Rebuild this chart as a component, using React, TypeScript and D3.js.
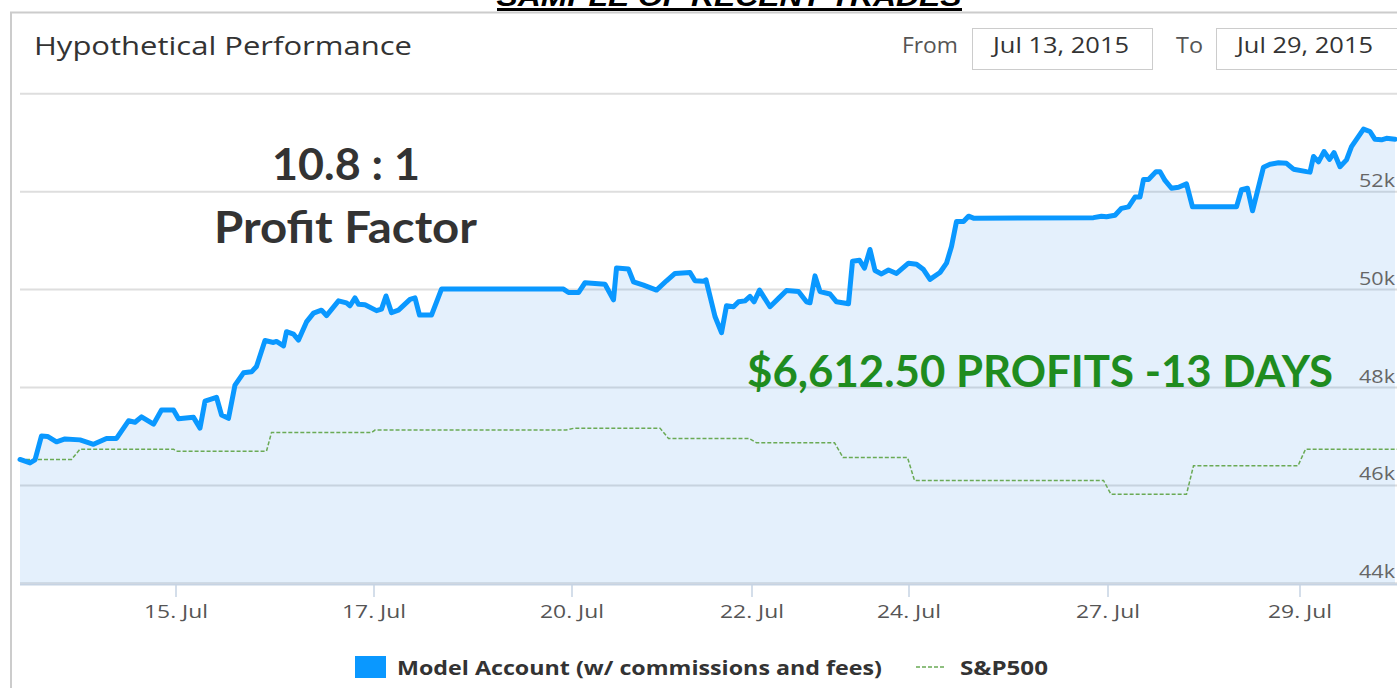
import React from "react";
import * as d3 from "d3";

// Ordinal position (trading-time index) and account value for the model account
const modelX = [0, 2, 3, 4.3, 5.5, 7.3, 9, 12, 14.7, 17.3, 19.3, 21.7, 23, 24.3, 26.7, 28.3, 30.7, 31.7, 34.7, 36, 37, 39.3, 40.3, 41.7, 43, 44.7, 46.3, 47.3, 49, 50.7, 51.3, 52.7, 53.3, 54.7, 55.7, 57.3, 58.7, 60.3, 61.3, 63.7, 65.3, 66, 67, 67.7, 69, 71.3, 72.3, 73.2, 74.3, 75.7, 78, 79, 79.9, 82.3, 84.3, 108.7, 109.7, 111.7, 113, 117, 118.7, 119.3, 121.7, 122.7, 124.7, 127.3, 129.3, 131, 134, 135, 136.7, 137.2, 139, 140.3, 141.3, 142.7, 143.7, 145, 146, 146.8, 147.9, 150, 151.7, 153.3, 155.7, 157.3, 158, 159, 160, 162, 163.3, 165.7, 166.5, 167.9, 168.9, 170, 171, 172.3, 173.7, 175.3, 177.7, 179.3, 180.7, 182, 184, 185.3, 186.3, 187.3, 188.7, 189.7, 190.7, 214.7, 216.3, 217.3, 219, 220.3, 221.7, 223, 224, 224.7, 225.7, 227.2, 228, 229, 230.3, 231.7, 233.3, 234.5, 243.3, 244.3, 245.5, 246.5, 248.7, 250, 251.7, 253.3, 254.7, 257.3, 258, 258.7, 259.7, 260.8, 261.9, 262.8, 264, 265.3, 266.3, 268.7, 270, 271, 272.3, 273.3, 275];
const modelY = [46530, 46460, 46520, 47010, 47000, 46890, 46950, 46930, 46840, 46960, 46960, 47320, 47290, 47400, 47250, 47540, 47540, 47360, 47390, 47170, 47720, 47800, 47440, 47370, 48050, 48300, 48320, 48430, 48960, 48920, 48940, 48850, 49140, 49090, 48970, 49340, 49520, 49580, 49470, 49770, 49730, 49670, 49830, 49700, 49690, 49570, 49600, 49870, 49530, 49580, 49800, 49830, 49480, 49480, 50010, 50010, 49940, 49940, 50140, 50110, 49790, 50440, 50420, 50160, 50090, 49990, 50180, 50330, 50350, 50180, 50170, 50200, 49450, 49120, 49670, 49650, 49750, 49770, 49860, 49750, 49990, 49650, 49820, 49980, 49960, 49750, 49730, 50280, 49960, 49910, 49750, 49710, 50580, 50600, 50440, 50820, 50390, 50320, 50400, 50330, 50540, 50520, 50410, 50210, 50350, 50540, 50880, 51390, 51390, 51500, 51460, 51470, 51500, 51490, 51520, 51660, 51690, 51890, 51890, 52250, 52250, 52410, 52410, 52230, 52070, 52090, 52160, 51690, 51690, 52040, 52070, 51610, 52500, 52560, 52590, 52580, 52460, 52410, 52400, 52720, 52610, 52820, 52660, 52800, 52510, 52650, 52920, 53280, 53230, 53070, 53060, 53090, 53070];

// S&P500 (scaled to the same start value)
const spX = [0, 10.3, 12, 30.7, 31.3, 49.3, 50.3, 70.3, 71, 109.2, 110.9, 128, 129.7, 145.8, 147.3, 162.9, 164.6, 177.5, 178.9, 216.7, 218.2, 233.3, 234.7, 255.6, 257.1, 275.4];
const spY = [46530, 46530, 46740, 46740, 46700, 46700, 47080, 47080, 47130, 47130, 47170, 47170, 46960, 46960, 46870, 46870, 46570, 46570, 46100, 46100, 45820, 45820, 46400, 46400, 46740, 46740];

const xTickPos = [31.2, 70.8, 110.4, 146.4, 177.8, 217.6, 256];
const xTickLabels = ["15. Jul", "17. Jul", "20. Jul", "22. Jul", "24. Jul", "27. Jul", "29. Jul"];
const yTicks = [44000, 46000, 48000, 50000, 52000, 54000];
const xDomain = [0, 275.4];
const yDomain = [44000, 54000];

export default function App() {
  const x = d3.scaleLinear().domain(xDomain).range([20, 1397]);
  const y = d3.scaleLinear().domain(yDomain).range([583.3, 93.8]);

  const model = modelX.map((u, i) => [u, modelY[i]] as [number, number]);
  const sp = spX.map((u, i) => [u, spY[i]] as [number, number]);

  const line = d3.line<[number, number]>().x((d) => x(d[0])).y((d) => y(d[1]));
  const area = d3
    .area<[number, number]>()
    .x((d) => x(d[0]))
    .y0(y(yDomain[0]))
    .y1((d) => y(d[1]));

  const font = "'Open Sans', 'DejaVu Sans', sans-serif";

  return (
    <svg
      width={1397}
      height={688}
      style={{ position: "absolute", left: 0, top: 0, background: "#fff" }}
    >
      {/* page header (cut off at the top edge, as in the source) */}
      <text
        x={729}
        y={6}
        textAnchor="middle"
        fontFamily="'Liberation Sans', Arial, sans-serif"
        fontWeight="bold"
        fontStyle="italic"
        fontSize={28}
        fill="#000"
        textLength={465}
        lengthAdjust="spacingAndGlyphs"
      >
        SAMPLE OF RECENT TRADES
      </text>
      <line x1={497} x2={962} y1={9.5} y2={9.5} stroke="#000" strokeWidth={3} />

      {/* chart container */}
      <rect x={11} y={12.5} width={1400} height={700} fill="#fff" stroke="#cccccc" strokeWidth={2} />

      {/* header */}
      <text x={34} y={55} fontFamily={font} fontSize={26} fill="#333" textLength={378} lengthAdjust="spacingAndGlyphs">
        Hypothetical Performance
      </text>
      <text x={902} y={53} fontFamily={font} fontSize={21} fill="#555" textLength={56} lengthAdjust="spacingAndGlyphs">
        From
      </text>
      <rect x={972.5} y={28.5} width={180} height={41} fill="#fff" stroke="#cccccc" strokeWidth={1} />
      <text x={993} y={53} fontFamily={font} fontSize={21} fill="#333" textLength={136} lengthAdjust="spacingAndGlyphs">
        Jul 13, 2015
      </text>
      <text x={1176} y={53} fontFamily={font} fontSize={21} fill="#555" textLength={27} lengthAdjust="spacingAndGlyphs">
        To
      </text>
      <rect x={1216.5} y={28.5} width={190} height={41} fill="#fff" stroke="#cccccc" strokeWidth={1} />
      <text x={1237} y={53} fontFamily={font} fontSize={21} fill="#333" textLength={136} lengthAdjust="spacingAndGlyphs">
        Jul 29, 2015
      </text>

      {/* grid lines */}
      {yTicks.map((t) => (
        <line key={t} x1={20} x2={1397} y1={y(t)} y2={y(t)} stroke="#dedede" strokeWidth={2} />
      ))}

      {/* area + lines */}
      <path d={area(model) || ""} fill="rgba(30,130,230,0.12)" stroke="none" />
      <path
        d={line(sp) || ""}
        fill="none"
        stroke="#6aaa55"
        strokeWidth={1.5}
        strokeDasharray="4,2"
      />
      <path
        d={line(model) || ""}
        fill="none"
        stroke="#0a98ff"
        strokeWidth={5}
        strokeLinejoin="round"
        strokeLinecap="round"
      />

      {/* y labels */}
      {yTicks
        .filter((t) => t < 54000)
        .map((t) => (
          <text
            key={t}
            x={1395}
            y={y(t) - 5}
            textAnchor="end"
            fontFamily={font}
            fontSize={19}
            fill="#666"
            textLength={36}
            lengthAdjust="spacingAndGlyphs"
          >
            {`${t / 1000}k`}
          </text>
        ))}

      {/* x axis */}
      <line x1={20} x2={1397} y1={584.5} y2={584.5} stroke="#c6d3e3" strokeWidth={2} />
      {xTickPos.map((p, i) => (
        <g key={p}>
          <line x1={x(p)} x2={x(p)} y1={585} y2={597} stroke="#c6d3e3" strokeWidth={1.5} />
          <text
            x={x(p)}
            y={618}
            textAnchor="middle"
            fontFamily={font}
            fontSize={19}
            fill="#555"
            textLength={64}
            lengthAdjust="spacingAndGlyphs"
          >
            {xTickLabels[i]}
          </text>
        </g>
      ))}

      {/* annotations */}
      <text x={346} y={180} textAnchor="middle" fontFamily="Lato, 'Open Sans', sans-serif" fontWeight="bold" fontSize={44} fill="#333" textLength={148} lengthAdjust="spacingAndGlyphs">
        10.8 : 1
      </text>
      <text x={214} y={243} fontFamily="Lato, 'Open Sans', sans-serif" fontWeight="bold" fontSize={44} fill="#333" textLength={263} lengthAdjust="spacingAndGlyphs">
        Profit Factor
      </text>
      <text x={747} y={387} fontFamily="Lato, 'Open Sans', sans-serif" fontWeight="bold" fontSize={44} fill="#1f8c1f" textLength={586} lengthAdjust="spacingAndGlyphs">
        $6,612.50 PROFITS -13 DAYS
      </text>

      {/* legend */}
      <rect x={355} y={656} width={31} height={22} fill="#0a98ff" />
      <text x={397} y={675} fontFamily={font} fontWeight="bold" fontSize={19} fill="#333" textLength={485} lengthAdjust="spacingAndGlyphs">
        Model Account (w/ commissions and fees)
      </text>
      <line x1={916} x2={946} y1={667} y2={667} stroke="#6aaa55" strokeWidth={1.5} strokeDasharray="4,2" />
      <text x={960} y={675} fontFamily={font} fontWeight="bold" fontSize={19} fill="#333" textLength={88} lengthAdjust="spacingAndGlyphs">
        S&amp;P500
      </text>
    </svg>
  );
}
